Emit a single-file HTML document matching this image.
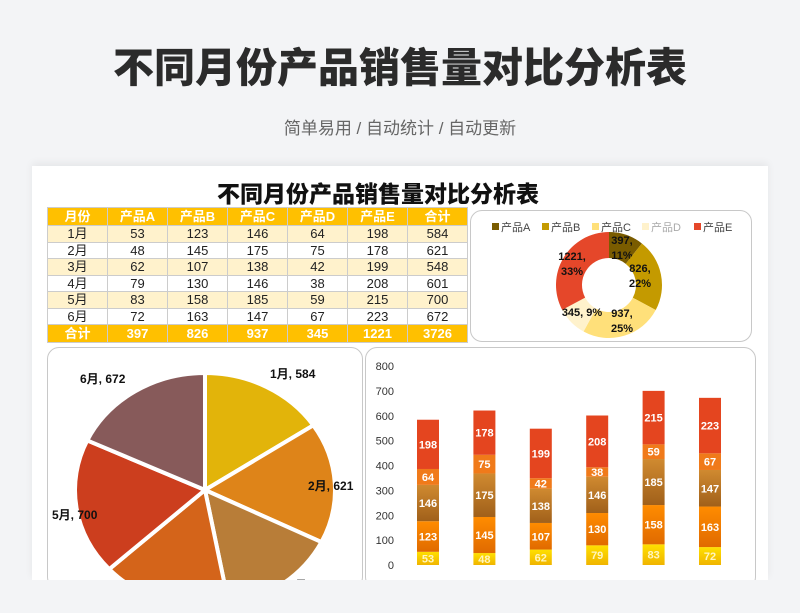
<!DOCTYPE html>
<html><head><meta charset="utf-8">
<style>
body{margin:0;width:800px;height:613px;background:#f3f4f6;font-family:"Liberation Sans","Noto Sans CJK SC",sans-serif;overflow:hidden;position:relative}
.t{position:absolute;left:0;width:800px;text-align:center}
#main-title{top:34px;font-size:41px;font-weight:900;color:#2b2b2b;letter-spacing:0px}
#subtitle{top:114px;font-size:17px;color:#666}
#card{position:absolute;left:32px;top:166px;width:736px;height:414px;background:#fff;box-shadow:0 -3px 8px rgba(0,0,0,0.06)}
table{position:absolute;left:47px;top:207px;border-collapse:collapse;font-size:13px}
td{border:1px solid #ccc;text-align:center;height:15.5px;padding:0;line-height:15px;width:59px;color:#222}
tr.h td,tr.f td{background:#ffc000;color:#fff;font-weight:bold;height:17px}
tr.o td{background:#fff2cc}
.panel{position:absolute;border:1px solid #c8c8c8;border-radius:12px;background:#fff;overflow:hidden}
</style></head><body>
<div class="t" id="main-title">不同月份产品销售量对比分析表</div>
<div class="t" id="subtitle">简单易用 / 自动统计 / 自动更新</div>
<div id="card"></div>
<div class="t" style="top:175px;left:-22px;font-size:23px;font-weight:900;color:#111">不同月份产品销售量对比分析表</div>
<table>
<tr class="h"><td>月份</td><td>产品A</td><td>产品B</td><td>产品C</td><td>产品D</td><td>产品E</td><td style="width:55px">合计</td></tr>
<tr class="o"><td>1月</td><td>53</td><td>123</td><td>146</td><td>64</td><td>198</td><td>584</td></tr>
<tr><td>2月</td><td>48</td><td>145</td><td>175</td><td>75</td><td>178</td><td>621</td></tr>
<tr class="o"><td>3月</td><td>62</td><td>107</td><td>138</td><td>42</td><td>199</td><td>548</td></tr>
<tr><td>4月</td><td>79</td><td>130</td><td>146</td><td>38</td><td>208</td><td>601</td></tr>
<tr class="o"><td>5月</td><td>83</td><td>158</td><td>185</td><td>59</td><td>215</td><td>700</td></tr>
<tr><td>6月</td><td>72</td><td>163</td><td>147</td><td>67</td><td>223</td><td>672</td></tr>
<tr class="f"><td>合计</td><td>397</td><td>826</td><td>937</td><td>345</td><td>1221</td><td>3726</td></tr>
</table>
<div class="panel" style="left:470px;top:210px;width:280px;height:130px"></div>
<div class="panel" style="left:47px;top:347px;width:314px;height:240px"></div>
<div class="panel" style="left:365px;top:347px;width:389px;height:240px"></div>
<svg id="s" width="800" height="613" style="position:absolute;left:0;top:0" font-family="Liberation Sans, Noto Sans CJK SC, sans-serif"></svg>
<div style="position:absolute;left:0;top:580px;width:800px;height:33px;background:#f3f4f6"></div>
<script>
const months=["1月","2月","3月","4月","5月","6月"];
const products=["产品A","产品B","产品C","产品D","产品E"];
const sA=[53,48,62,79,83,72];
const sB=[123,145,107,130,158,163];
const sC=[146,175,138,146,185,147];
const sD=[64,75,42,38,59,67];
const sE=[198,178,199,208,215,223];
const monthTotals=[584,621,548,601,700,672];
const productTotals=[397,826,937,345,1221];
const yTicks=[0,100,200,300,400,500,600,700,800];
const NS="http://www.w3.org/2000/svg";
const svg=document.getElementById('s');
function mk(t,a,txt){const e=document.createElementNS(NS,t);for(const k in a)e.setAttribute(k,a[k]);if(txt!==undefined)e.textContent=txt;svg.appendChild(e);return e;}
// defs gradients
const defs=document.createElementNS(NS,'defs');svg.appendChild(defs);
defs.innerHTML='<linearGradient id="gA" x1="0" y1="0" x2="0" y2="1"><stop offset="0" stop-color="#ffe000"/><stop offset="1" stop-color="#f0b400"/></linearGradient><linearGradient id="gB" x1="0" y1="0" x2="0" y2="1"><stop offset="0" stop-color="#ff8c00"/><stop offset="1" stop-color="#e06a00"/></linearGradient><linearGradient id="gC" x1="0" y1="0" x2="0" y2="1"><stop offset="0" stop-color="#d08a30"/><stop offset="1" stop-color="#a0601a"/></linearGradient>';
const barFill=["url(#gA)","url(#gB)","url(#gC)","#f07a1a","#e4451f"];
// bar chart
const y0=565,yTop=366,vmax=800;
const Y=v=>y0-(v/vmax)*(y0-yTop);
const X=i=>428+i*56.4;
yTicks.forEach(t=>{const e=mk('text',{x:394,y:Y(t)+4,'text-anchor':'end','font-size':11,fill:'#333'},t);

});
const series=[sA,sB,sC,sD,sE];
months.forEach((m,i)=>{let acc=0;series.forEach((s,k)=>{const v=s[i];const r=mk('rect',{x:X(i)-11,y:Y(acc+v),width:22,height:Y(acc)-Y(acc+v),fill:barFill[k]});


const tx=mk('text',{x:X(i),y:(Y(acc)+Y(acc+v))/2+4,'text-anchor':'middle','font-size':11,'font-weight':'bold',fill:k==0?'#fff5c0':'#fff'},v);


acc+=v;});});
// pie
const pcol=["#e2b40a","#de8419","#b87d38","#d4641a","#cc3e1e","#875a5a"];
const pcx=205,pcy=490,prx=130,pry=117;
const mtot=monthTotals.reduce((a,b)=>a+b,0);
let ang=0;
monthTotals.forEach((v,i)=>{const a0=ang,a1=ang+v/mtot*2*Math.PI;ang=a1;
const p=(a)=>[pcx+prx*Math.sin(a),pcy-pry*Math.cos(a)];
const [x0,yy0]=p(a0),[x1,yy1]=p(a1);
const path=mk('path',{d:`M${pcx},${pcy}L${x0},${yy0}A${prx},${pry} 0 ${a1-a0>Math.PI?1:0} 1 ${x1},${yy1}Z`,fill:pcol[i],stroke:'#fff','stroke-width':4});


const am=(a0+a1)/2;const lx=pcx+(prx+8)*Math.sin(am),ly=pcy-(pry+8)*Math.cos(am);
const anch=Math.sin(am)>0.3?'start':(Math.sin(am)<-0.3?'end':'middle');
let tx=lx,ty=ly;
if(i===0){tx=270;ty=378;} else if(i===1){tx=308;ty=490;} else if(i===4){tx=52;ty=519;} else if(i===5){tx=80;ty=383;}
const t=mk('text',{x:tx,y:ty,'font-size':12,'font-weight':'bold',fill:'#111'},months[i]+', '+v);


});
// donut
const dcol=["#7a5c00","#c49a00","#ffe07a","#fff2cc","#e5472a"];
const dcx=609,dcy=285,dro=53,dri=27;
const ptot=productTotals.reduce((a,b)=>a+b,0);
ang=0;
const dl=[[622,244],[640,272],[622,317],[582,316],[572,260]];
productTotals.forEach((v,i)=>{const a0=ang,a1=ang+v/ptot*2*Math.PI;ang=a1;
const p=(a,r)=>[dcx+r*Math.sin(a),dcy-r*Math.cos(a)];
const [ax,ay]=p(a0,dro),[bx,by]=p(a1,dro),[cx,cy]=p(a1,dri),[ex,ey]=p(a0,dri);const lg=a1-a0>Math.PI?1:0;
const path=mk('path',{d:`M${ax},${ay}A${dro},${dro} 0 ${lg} 1 ${bx},${by}L${cx},${cy}A${dri},${dri} 0 ${lg} 0 ${ex},${ey}Z`,fill:dcol[i]});


const pct=Math.round(v/ptot*100)+'%';
const t=mk('text',{x:dl[i][0],y:dl[i][1],'font-size':11,'font-weight':'bold',fill:'#111','text-anchor':'middle'});


if(i===3){t.textContent=v+', '+pct;}else{const s1=document.createElementNS(NS,'tspan');s1.setAttribute('x',dl[i][0]);s1.textContent=v+',';const s2=document.createElementNS(NS,'tspan');s2.setAttribute('x',dl[i][0]);s2.setAttribute('dy','15');s2.textContent=pct;t.appendChild(s1);t.appendChild(s2);}
});
// legend
const lx=[492,542,592,642,694];
products.forEach((n,i)=>{const r=mk('rect',{x:lx[i],y:223,width:7,height:7,fill:dcol[i]});


const t=mk('text',{x:lx[i]+9,y:231,'font-size':11,fill:i===3?'#aaa':'#444'},n);

});
</script>
</body></html>
